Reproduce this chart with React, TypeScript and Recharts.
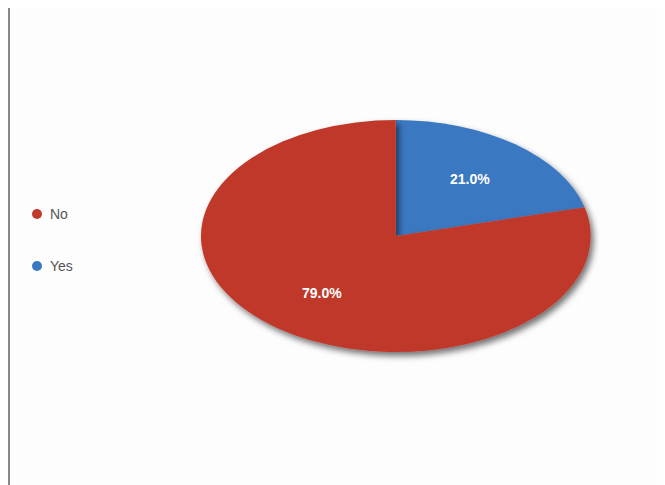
import React from "react";
import { PieChart, Pie, Cell, Legend } from "recharts";

const categories = ["Yes", "No"];
const values = [21, 79];
const colors = ["#3a78c2", "#c0392b"];

const data = categories.map((name, i) => ({ name, value: values[i] }));

const RX_SCALE = 1.68;
const RAD = Math.PI / 180;

function pt(cx: number, cy: number, r: number, a: number) {
  return [cx + r * RX_SCALE * Math.cos(-a * RAD), cy + r * Math.sin(-a * RAD)];
}

function EllipseSector(props: any) {
  const { cx, cy, outerRadius, startAngle, endAngle, fill } = props;
  const [x1, y1] = pt(cx, cy, outerRadius, startAngle);
  const [x2, y2] = pt(cx, cy, outerRadius, endAngle);
  const large = Math.abs(startAngle - endAngle) > 180 ? 1 : 0;
  const sweep = startAngle > endAngle ? 1 : 0;
  const d = `M${cx},${cy} L${x1},${y1} A${outerRadius * RX_SCALE},${outerRadius} 0 ${large} ${sweep} ${x2},${y2} Z`;
  return <path d={d} fill={fill} stroke="none" filter="url(#pieShadow)" />;
}

function renderLabel(props: any) {
  const { cx, cy, outerRadius, midAngle, percent } = props;
  const f = 0.62;
  const [x, y] = pt(cx, cy, outerRadius * f, midAngle);
  return (
    <text
      x={x}
      y={y}
      fill="#ffffff"
      fontSize={14}
      fontWeight="bold"
      fontFamily="Liberation Sans, Arial, sans-serif"
      textAnchor="middle"
      dominantBaseline="central"
    >
      {(percent * 100).toFixed(1) + "%"}
    </text>
  );
}

function LegendContent(props: any) {
  const { payload } = props;
  return (
    <div style={{ fontFamily: "Liberation Sans, Arial, sans-serif", fontSize: 14, color: "#555" }}>
      {(payload || []).map((p: any, i: number) => (
        <div key={i} style={{ display: "flex", alignItems: "center", height: 26, marginBottom: i === 0 ? 26 : 0 }}>
          <span
            style={{
              display: "inline-block",
              width: 10,
              height: 10,
              borderRadius: 5,
              background: p.color,
              marginRight: 8,
            }}
          />
          <span>{p.value}</span>
        </div>
      ))}
    </div>
  );
}

export default function App() {
  return (
    <div
      style={{
        marginTop: -5,
        width: 655,
        height: 482,
        borderTop: "2px solid #d0d0d0",
        borderLeft: "2px solid #888888",
        background: "#fdfdfd",
        position: "relative",
      }}
    >
      <PieChart width={655} height={480}>
        <defs>
          <filter id="pieShadow" x="-20%" y="-20%" width="140%" height="140%">
            <feDropShadow dx="3" dy="4" stdDeviation="3" floodColor="#000" floodOpacity="0.55" />
          </filter>
        </defs>
        <Legend
          layout="vertical"
          align="left"
          verticalAlign="middle"
          content={LegendContent}
          wrapperStyle={{ left: 22, top: 196 }}
        />
        <Pie
          data={data}
          dataKey="value"
          nameKey="name"
          cx={340}
          cy={226}
          outerRadius={116}
          startAngle={90}
          endAngle={-270}
          isAnimationActive={false}
          shape={EllipseSector}
          label={renderLabel}
          labelLine={false}
        >
          {data.map((d, i) => (
            <Cell key={d.name} fill={colors[i]} />
          ))}
        </Pie>
      </PieChart>
    </div>
  );
}
